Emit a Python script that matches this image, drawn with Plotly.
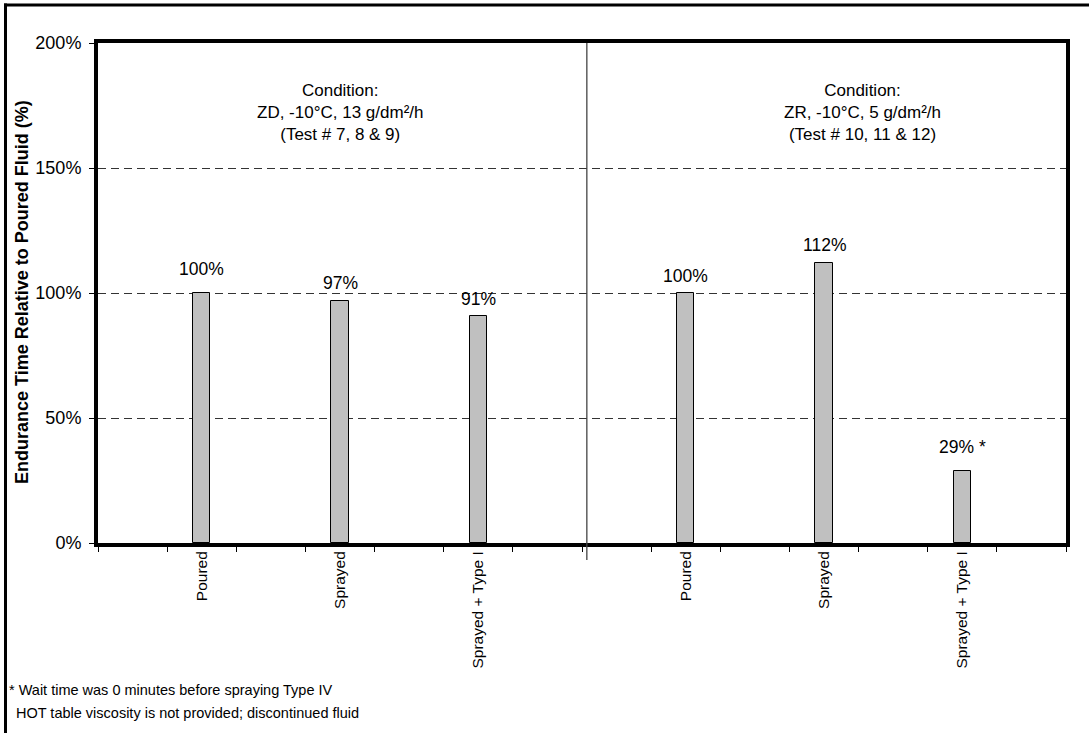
import plotly.graph_objects as go

# ---- data ----
slot_positions = [1.5, 3.5, 5.5, 8.5, 10.5, 12.5]
categories = ["Poured", "Sprayed", "Sprayed + Type I", "Poured", "Sprayed", "Sprayed + Type I"]
values = [100, 97, 91, 100, 112, 29]
value_labels = ["100%", "97%", "91%", "100%", "112%", "29% *"]
y_ticks = [0, 50, 100, 150, 200]
y_tick_labels = ["0%", "50%", "100%", "150%", "200%"]
n_slots = 14
divider_x = 7.07
condition_x = [3.5, 11.05]
condition_texts = [
    "Condition:<br>ZD, -10°C, 13 g/dm²/h<br>(Test # 7, 8 & 9)",
    "Condition:<br>ZR, -10°C, 5 g/dm²/h<br>(Test # 10, 11 & 12)",
]
footnote_lines = [
    "* Wait time was 0 minutes before spraying Type IV",
    "HOT table viscosity is not provided; discontinued fluid",
]
y_title = "Endurance Time Relative to Poured Fluid (%)"

# ---- styling ----
label_shift_px = [24, 18, 17, 17, 18, 24]   # label centre above bar top (px)
FONT = "Arial, Liberation Sans, sans-serif"
W, H = 1089, 733
L, R, T, B = 98, 23, 43, 190
pw, ph = W - L - R, H - T - B

def px_x(px):
    return (px - L) / pw

def px_y(py):
    return (H - B - py) / ph

fig = go.Figure()
fig.add_trace(go.Bar(
    x=slot_positions, y=values, width=0.25,
    marker=dict(color="#C0C0C0", line=dict(color="black", width=1)),
    showlegend=False, hoverinfo="skip",
))

annotations = []
for xv, yv, t, s in zip(slot_positions, values, value_labels, label_shift_px):
    annotations.append(dict(x=xv, y=yv, text=t, showarrow=False, xref="x", yref="y",
                            yanchor="middle", yshift=s, font=dict(family=FONT, size=17.5, color="black")))
for cx, ct in zip(condition_x, condition_texts):
    annotations.append(dict(x=cx, y=px_y(112), text=ct, showarrow=False, xref="x", yref="paper",
                            yanchor="middle", xanchor="center", align="center",
                            font=dict(family=FONT, size=17, color="black")))
annotations.append(dict(x=px_x(21.5), y=px_y(292.5), text="<b>" + y_title + "</b>", textangle=-90,
                        showarrow=False, xref="paper", yref="paper", xanchor="center", yanchor="middle",
                        font=dict(family=FONT, size=18, color="black")))
annotations.append(dict(x=px_x(7), y=px_y(690), text=footnote_lines[0], showarrow=False,
                        xref="paper", yref="paper", xanchor="left", yanchor="middle",
                        font=dict(family=FONT, size=14.5, color="black")))
annotations.append(dict(x=px_x(14), y=px_y(713), text=footnote_lines[1], showarrow=False,
                        xref="paper", yref="paper", xanchor="left", yanchor="middle",
                        font=dict(family=FONT, size=14.5, color="black")))

shapes = [
    # divider between the two conditions
    dict(type="line", xref="x", yref="paper", x0=divider_x, x1=divider_x, y0=px_y(560), y1=1,
         line=dict(color="#444", width=1.3), layer="above"),
    # outer chart border (left and top)
    dict(type="line", xref="paper", yref="paper", x0=px_x(4), x1=px_x(1095), y0=px_y(5), y1=px_y(5),
         line=dict(color="black", width=3)),
    dict(type="line", xref="paper", yref="paper", x0=px_x(5.5), x1=px_x(5.5), y0=px_y(3.5), y1=px_y(740),
         line=dict(color="black", width=3)),
]

fig.update_layout(
    width=W, height=H,
    margin=dict(l=L, r=R, t=T, b=B),
    paper_bgcolor="white", plot_bgcolor="white",
    bargap=0,
    annotations=annotations, shapes=shapes,
    font=dict(family=FONT, size=15, color="black"),
)
fig.update_xaxes(
    range=[0, n_slots],
    tickmode="array", tickvals=slot_positions, ticktext=categories,
    tickangle=-90, ticks="", ticklen=0,
    tickfont=dict(family=FONT, size=15.5, color="black"),
    minor=dict(tickmode="array", tickvals=list(range(n_slots + 1)), ticks="outside",
               ticklen=5, tickcolor="black", tickwidth=1, showgrid=False),
    showgrid=False, zeroline=False,
    showline=True, linecolor="black", linewidth=4, mirror=True,
    ticklabelstandoff=-2,
)
fig.update_yaxes(
    range=[0, 200],
    tickmode="array", tickvals=y_ticks, ticktext=y_tick_labels,
    ticks="outside", ticklen=5, tickcolor="black", tickwidth=1,
    tickfont=dict(family=FONT, size=18, color="black"),
    showgrid=True, gridcolor="#333", gridwidth=1, griddash="8px,5px",
    zeroline=False,
    showline=True, linecolor="black", linewidth=4, mirror=True,
    ticklabelstandoff=4,
)

fig.write_html("out.html", config={"displayModeBar": False},
               post_script="document.body.style.margin='0px';")
